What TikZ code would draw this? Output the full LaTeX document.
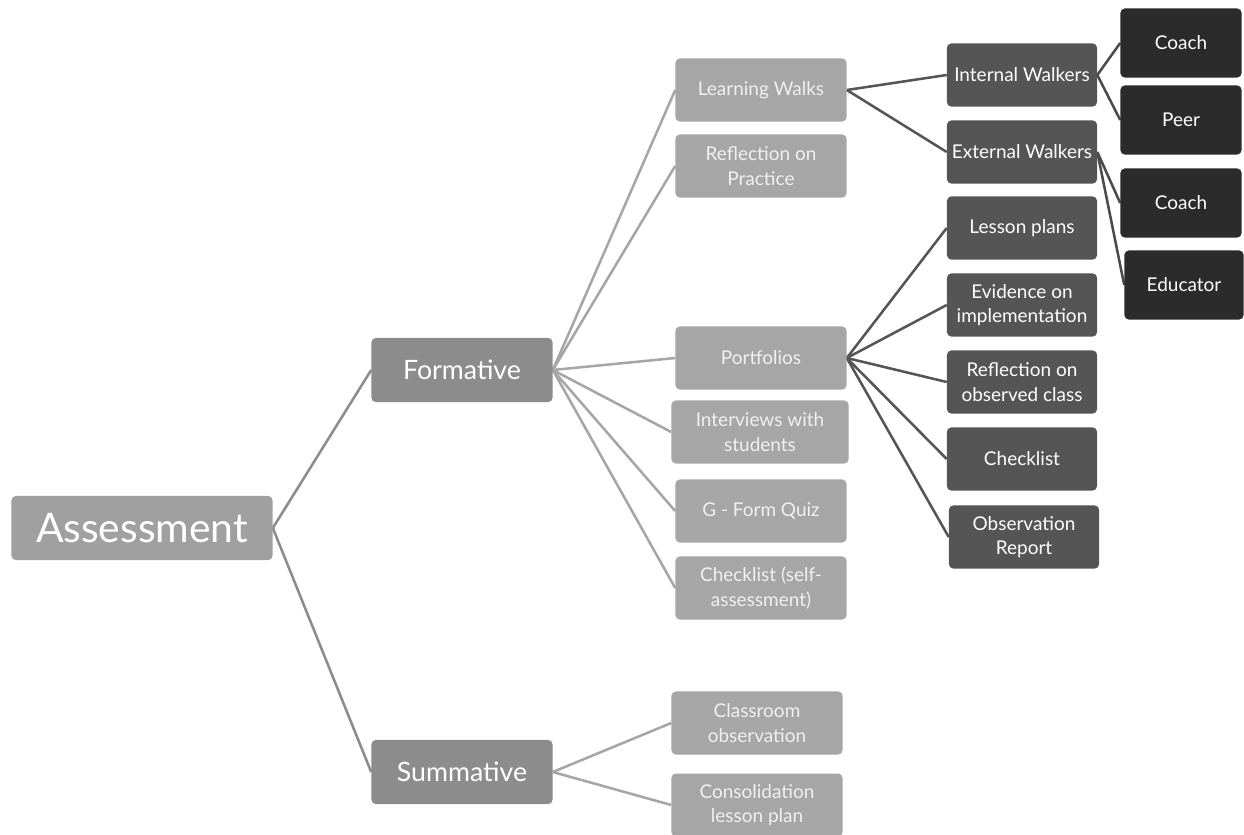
\documentclass[tikz,border=0pt]{standalone}
\usepackage{fontspec}
\setmainfont{Lato}
\usepackage{xcolor}
\usetikzlibrary{backgrounds}

\definecolor{rootgray}{HTML}{A0A0A0}
\definecolor{midgray}{HTML}{8C8C8C}
\definecolor{leafgray}{HTML}{A6A6A6}
\definecolor{darkgray}{HTML}{555555}
\definecolor{blackgray}{HTML}{2B2B2B}

\begin{document}
\begin{tikzpicture}[
        x=0.025cm, y=-0.025cm,
        box/.style={rectangle, rounded corners=3pt, text=white, align=center, inner sep=2pt},
        rootbox/.style={box, fill=rootgray, minimum width=6.525cm, minimum height=1.6cm, font=\fontsize{29}{32}\selectfont},
        midbox/.style={box, fill=midgray, minimum width=4.525cm, minimum height=1.6cm, font=\fontsize{19}{22}\selectfont},
        leafbox/.style={box, fill=leafgray, text=white!94!black, minimum width=4.275cm, minimum height=1.575cm, font=\fontsize{13.5}{17.5}\selectfont},
        subbox/.style={box, fill=darkgray, minimum width=3.75cm, minimum height=1.575cm, font=\fontsize{13.5}{17.5}\selectfont},
        tipbox/.style={box, fill=blackgray, minimum width=3.025cm, minimum height=1.725cm, font=\fontsize{13.5}{17.5}\selectfont},
        link/.style={line width=1.8pt}
    ]
        \useasboundingbox (0,0) rectangle (1244,835);
        % levels 0 and 1
        \node[rootbox] (assess) at (142,528) {Assessment};
        \node[midbox] (form) at (462,370) {Formative};
        \node[midbox] (summ) at (462,772) {Summative};
        % level 2
        \node[leafbox] (walks) at (761,90) {Learning Walks};
        \node[leafbox] (reflect) at (761,166) {Reflection on\\Practice};
        \node[leafbox] (portf) at (761,358) {Portfolios};
        \node[leafbox, minimum width=4.425cm] (interv) at (760,432) {Interviews with\\students};
        \node[leafbox] (gform) at (761,511) {G - Form Quiz};
        \node[leafbox] (selfcheck) at (761,588) {Checklist (self-\\assessment)};
        \node[leafbox] (classobs) at (757,723) {Classroom\\observation};
        \node[leafbox] (consol) at (757,805) {Consolidation\\lesson plan};
        % level 3
        \node[subbox] (internal) at (1022,75) {Internal Walkers};
        \node[subbox] (external) at (1022,152) {External Walkers};
        \node[subbox] (lesson) at (1022,228) {Lesson plans};
        \node[subbox] (evid) at (1022,305) {Evidence on\\implementation};
        \node[subbox] (reflobs) at (1022,382) {Reflection on\\observed class};
        \node[subbox] (checklist) at (1022,459) {Checklist};
        \node[subbox] (obsrep) at (1024,537) {Observation\\Report};
        % level 4
        \node[tipbox] (coachin) at (1181,43) {Coach};
        \node[tipbox] (peer) at (1181,120) {Peer};
        \node[tipbox] (coachex) at (1181,203) {Coach};
        \node[tipbox, minimum width=2.975cm] (educ) at (1184,285) {Educator};

        \begin{scope}[on background layer]
            \draw[link, midgray] (assess.east) -- (form.west);
            \draw[link, midgray] (assess.east) -- (summ.west);
            \foreach \n in {walks, reflect, portf, interv, gform, selfcheck}
                \draw[link, leafgray] (form.east) -- (\n.west);
            \foreach \n in {classobs, consol}
                \draw[link, leafgray] (summ.east) -- (\n.west);
            \foreach \n in {internal, external}
                \draw[link, darkgray] (walks.east) -- (\n.west);
            \foreach \n in {lesson, evid, reflobs, checklist, obsrep}
                \draw[link, darkgray] (portf.east) -- (\n.west);
            \foreach \n in {coachin, peer}
                \draw[link, blackgray!85!white] (internal.east) -- (\n.west);
            \foreach \n in {coachex, educ}
                \draw[link, blackgray!85!white] (external.east) -- (\n.west);
        \end{scope}
    \end{tikzpicture}
\end{document}
